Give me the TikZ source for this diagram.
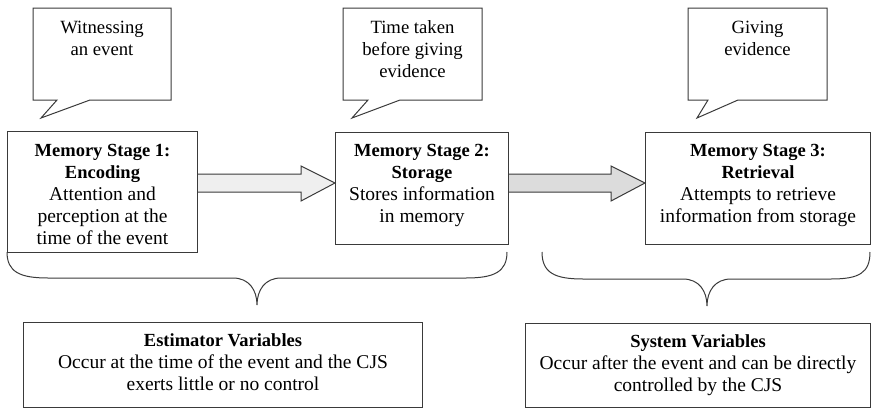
\documentclass[tikz,border=0pt]{standalone}
\usepackage{fontspec}
\setmainfont{Liberation Serif}
\usetikzlibrary{calc}
\definecolor{linec}{HTML}{3A3A3A}
\definecolor{arrowA}{HTML}{EFEFEF}
\definecolor{arrowB}{HTML}{DCDCDC}
\newcommand{\hd}[1]{{\bfseries\fontsize{18.5}{22}\selectfont #1}}
\begin{document}
\begin{tikzpicture}[x=1pt,y=-1pt,
  box/.style={draw=linec, line width=1pt, inner sep=0pt, anchor=north west},
  boxtext/.style={anchor=north, align=center, inner sep=0pt, font=\fontsize{19.5}{22}\selectfont},
  calltext/.style={anchor=north, align=center, inner sep=0pt, font=\fontsize{18.7}{22}\selectfont},
  callout/.style={draw=linec, line width=1pt, fill=white, line join=miter},
  brace/.style={draw=linec, line width=1pt},
  blockarrow/.style={draw=linec, line width=1pt, line join=miter}
]
\useasboundingbox (0,0) rectangle (871,408);

% callouts
\draw[callout] (33,8) -- (171,8) -- (171,100) -- (90,100) -- (41,118) -- (57,100) -- (33,100) -- cycle;
\node[calltext] (c1) at (102,17.6) {\strut Witnessing\\an event};
\draw[callout] (343,8) -- (482,8) -- (482,100) -- (400,100) -- (352,118) -- (368,100) -- (343,100) -- cycle;
\node[calltext] (c2) at (412.5,17.6) {\strut Time taken\\before giving\\evidence};
\draw[callout] (688,8) -- (827,8) -- (827,100) -- (738,100) -- (697,118) -- (708,100) -- (688,100) -- cycle;
\node[calltext] (c3) at (757.5,17.6) {\strut Giving\\evidence};

% stage boxes
\node[box, minimum width=190pt, minimum height=121pt] (s1) at (7,131) {};
\node[box, minimum width=173pt, minimum height=112pt] (s2) at (335,132) {};
\node[box, minimum width=225pt, minimum height=112pt] (s3) at (645,132) {};
\node[boxtext] (s1t) at ($(s1.north)+(0,9.6)$) {\strut\hd{Memory Stage 1:}\\\hd{Encoding}\\Attention and\\perception at the\\time of the event};
\node[boxtext] (s2t) at ($(s2.north)+(0,8.6)$) {\strut\hd{Memory Stage 2:}\\\hd{Storage}\\Stores information\\in memory};
\node[boxtext] (s3t) at ($(s3.north)+(0,8.6)$) {\strut\hd{Memory Stage 3:}\\\hd{Retrieval}\\Attempts to retrieve\\information from storage};

% block arrows
\coordinate (ay) at (0,183);
\draw[blockarrow, fill=arrowA] ($(s1.east|-ay)+(0,-9)$) -- ($(s2.west|-ay)+(-34,-9)$) -- ($(s2.west|-ay)+(-34,-17)$) -- (s2.west|-ay) -- ($(s2.west|-ay)+(-34,18)$) -- ($(s2.west|-ay)+(-34,9)$) -- ($(s1.east|-ay)+(0,9)$);
\draw[blockarrow, fill=arrowB] ($(s2.east|-ay)+(0,-9)$) -- ($(s3.west|-ay)+(-34,-9)$) -- ($(s3.west|-ay)+(-34,-17)$) -- (s3.west|-ay) -- ($(s3.west|-ay)+(-34,18)$) -- ($(s3.west|-ay)+(-34,9)$) -- ($(s2.east|-ay)+(0,9)$);

% braces
\coordinate (b1l) at (7,252);
\coordinate (b1r) at (507,252);
\coordinate (b1t) at (257,305);
\draw[brace] (b1l) .. controls (7,272) and (20,278) .. (48,278) -- (233,278) .. controls (249,278) and (257,290) .. (b1t) .. controls (257,290) and (265,278) .. (281,278) -- (466,278) .. controls (494,278) and (507,272) .. (b1r);
\coordinate (b2l) at (542,252);
\coordinate (b2r) at (870,252);
\coordinate (b2t) at (707,306);
\draw[brace] (b2l) .. controls (542,273) and (555,279) .. (583,279) -- (683,279) .. controls (699,279) and (707,291) .. (b2t) .. controls (707,291) and (715,279) .. (731,279) -- (831,279) .. controls (859,279) and (870,273) .. (b2r);

% variable boxes
\node[box, minimum width=399pt, minimum height=85pt] (est) at (23,322) {};
\node[boxtext] (estt) at ($(est.north)+(0,9.3)$) {\strut\hd{Estimator Variables}\\Occur at the time of the event and the CJS\\exerts little or no control};
\node[box, minimum width=345pt, minimum height=84pt] (sys) at (525,323) {};
\node[boxtext] (syst) at ($(sys.north)+(0,9.3)$) {\strut\hd{System Variables}\\Occur after the event and can be directly\\controlled by the CJS};
\end{tikzpicture}
\end{document}
